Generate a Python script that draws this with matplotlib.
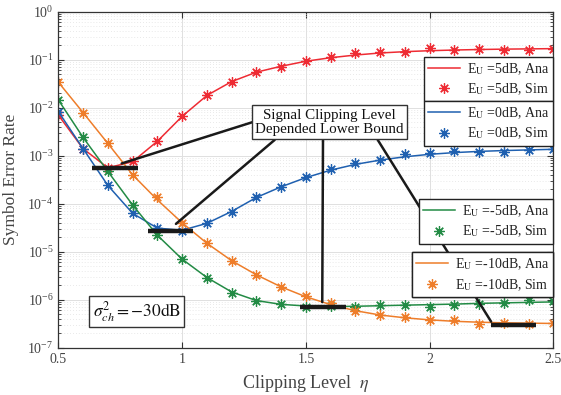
import numpy as np
import matplotlib
matplotlib.use("Agg")
import matplotlib.pyplot as plt
from matplotlib.ticker import LogLocator, LogFormatterMathtext, FixedLocator, NullFormatter

plt.rcParams['font.family'] = ['Liberation Serif', 'DejaVu Serif']
plt.rcParams['mathtext.fontset'] = 'stix'

eta = [0.5, 0.6, 0.7, 0.8, 0.9, 1.0, 1.1, 1.2, 1.3, 1.4, 1.5,
       1.6, 1.7, 1.8, 1.9, 2.0, 2.1, 2.2, 2.3, 2.4, 2.5]

ser_5dB_sim = [7.0e-3, 1.4e-3, 5.5e-4, 7.6e-4, 2.0e-3, 6.7e-3, 1.8e-2, 3.5e-2, 5.5e-2, 7.1e-2, 9.4e-2,
               0.112, 0.136, 0.147, 0.147, 0.178, 0.160, 0.170, 0.160, 0.160, 0.170]
ser_5dB_ana = [7.0e-3, 1.4e-3, 5.6e-4, 7.5e-4, 2.0e-3, 6.6e-3, 1.8e-2, 3.5e-2, 5.5e-2, 7.3e-2, 9.3e-2,
               0.110, 0.125, 0.138, 0.147, 0.154, 0.159, 0.163, 0.166, 0.168, 0.170]

ser_0dB_sim = [8.3e-3, 1.4e-3, 2.4e-4, 6.3e-5, 3.1e-5, 2.7e-5, 3.9e-5, 6.8e-5, 1.4e-4, 2.25e-4, 3.6e-4,
               5.2e-4, 6.9e-4, 8.3e-4, 1.07e-3, 1.12e-3, 1.26e-3, 1.18e-3, 1.2e-3, 1.3e-3, 1.38e-3]
ser_0dB_ana = [8.3e-3, 1.4e-3, 2.4e-4, 6.3e-5, 3.1e-5, 2.8e-5, 3.9e-5, 6.9e-5, 1.35e-4, 2.25e-4, 3.5e-4,
               5.0e-4, 6.6e-4, 8.1e-4, 9.5e-4, 1.07e-3, 1.16e-3, 1.23e-3, 1.28e-3, 1.32e-3, 1.36e-3]

ser_m5dB_sim = [1.45e-2, 2.4e-3, 4.7e-4, 9.4e-5, 2.2e-5, 6.9e-6, 2.9e-6, 1.4e-6, 9.5e-7, 8.1e-7, 6.9e-7,
                7.4e-7, 7.2e-7, 7.8e-7, 7.8e-7, 7.0e-7, 7.8e-7, 8.1e-7, 8.6e-7, 9.8e-7, 9.2e-7]
ser_m5dB_ana = [1.45e-2, 2.4e-3, 4.7e-4, 9.4e-5, 2.2e-5, 7.0e-6, 2.9e-6, 1.45e-6, 9.6e-7, 8.0e-7, 7.4e-7,
                7.2e-7, 7.3e-7, 7.5e-7, 7.7e-7, 7.9e-7, 8.1e-7, 8.4e-7, 8.6e-7, 8.8e-7, 9.0e-7]

ser_m10dB_sim = [3.4e-2, 7.9e-3, 1.8e-3, 4.0e-4, 1.4e-4, 3.9e-5, 1.5e-5, 6.4e-6, 3.3e-6, 1.8e-6, 1.2e-6,
                 8.7e-7, 5.8e-7, 4.8e-7, 4.3e-7, 3.8e-7, 3.7e-7, 3.1e-7, 3.2e-7, 3.1e-7, 3.2e-7]
ser_m10dB_ana = [3.4e-2, 7.9e-3, 1.8e-3, 4.0e-4, 1.2e-4, 4.0e-5, 1.5e-5, 6.5e-6, 3.3e-6, 1.85e-6, 1.15e-6,
                 7.9e-7, 5.9e-7, 4.8e-7, 4.2e-7, 3.8e-7, 3.55e-7, 3.4e-7, 3.3e-7, 3.25e-7, 3.2e-7]

labels = ['5dB', '0dB', '-5dB', '-10dB']
colors = ['#EE2B33', '#1F60B0', '#238B45', '#EE7D2A']

# lower bound segments: (eta_start, eta_end, level)
bound_x0 = [0.637, 0.863, 1.475, 2.247]
bound_x1 = [0.820, 1.044, 1.663, 2.430]
bound_y = [5.5e-4, 2.65e-5, 6.9e-7, 2.97e-7]

# annotation leader lines (start at box, end near bound)
lead_start = [(1.285, 10**-2.30), (1.374, 10**-2.67), (1.569, 10**-2.67), (1.790, 10**-2.67)]
lead_end = [(0.756, 6.9e-4), (0.975, 3.8e-5), (1.566, 8.9e-7), (2.248, 3.5e-7)]

fig = plt.figure(figsize=(5.61, 3.95), dpi=100)
ax = fig.add_axes([0.104, 0.1197, 0.8826, 0.8507])
ax.set_yscale('log')
ax.set_xlim(0.5, 2.5)
ax.set_ylim(1e-7, 1)

sims = [ser_5dB_sim, ser_0dB_sim, ser_m5dB_sim, ser_m10dB_sim]
anas = [ser_5dB_ana, ser_0dB_ana, ser_m5dB_ana, ser_m10dB_ana]
handles = []
for s, a, c in zip(sims, anas, colors):
    l1, = ax.plot(eta, a, '-', color=c, lw=1.1)
    l2, = ax.plot(eta, s, linestyle='none', marker=(8, 2, 0), markersize=7.5,
                  markeredgewidth=0.9, color=c)
    handles.append((l1, l2))

for x0, x1, yb in zip(bound_x0, bound_x1, bound_y):
    ax.plot([x0, x1], [yb, yb], color='#1a1a1a', lw=3.2, solid_capstyle='butt', zorder=5)

for st, en in zip(lead_start, lead_end):
    ax.annotate('', xy=en, xytext=st,
                arrowprops=dict(arrowstyle='-', color='#1a1a1a', lw=1.8, shrinkA=0, shrinkB=0),
                zorder=5)

ax.text(1.594, 5.0e-3, 'Signal Clipping Level\nDepended Lower Bound', ha='center', va='center',
        fontsize=10.8, color='#111111', linespacing=1.1, zorder=6,
        bbox=dict(boxstyle='square,pad=0.22', fc='white', ec='#333333', lw=1.0))

ax.text(0.069, 0.1065, r'$\sigma^2_{ch} = -30\mathrm{dB}$', transform=ax.transAxes,
        ha='left', va='center', fontsize=12.5, color='#111111',
        bbox=dict(boxstyle='square,pad=0.18', fc='white', ec='#333333', lw=1.0))

# grid
ax.grid(True, which='major', color='#e0e0e0', lw=0.7, linestyle='-')
ax.yaxis.set_minor_locator(LogLocator(base=10, subs=np.arange(2, 10), numticks=20))
ax.yaxis.set_minor_formatter(NullFormatter())
ax.grid(True, which='minor', axis='y', color='#e2e2e2', lw=0.6, linestyle=(0, (1, 2.5)))
ax.set_axisbelow(True)

ax.xaxis.set_major_locator(FixedLocator([0.5, 1, 1.5, 2, 2.5]))
ax.set_xticklabels(['0.5', '1', '1.5', '2', '2.5'])
ax.yaxis.set_major_locator(LogLocator(base=10, numticks=10))
ax.yaxis.set_major_formatter(LogFormatterMathtext())
ax.tick_params(which='both', direction='in', top=True, right=True, colors='#333333',
               labelcolor='#444444', labelsize=10)
ax.tick_params(which='major', length=4)
ax.tick_params(which='minor', length=2)
for sp in ax.spines.values():
    sp.set_color('#333333')
    sp.set_linewidth(0.9)

ax.set_xlabel(r'Clipping Level  $\eta$', fontsize=13, color='#444444', labelpad=5)
ax.set_ylabel('Symbol Error Rate', fontsize=12.5, color='#444444', labelpad=6)

legend_tops = [0.866, 0.734, 0.442, 0.284]
for (l1, l2), lab, top in zip(handles, labels, legend_tops):
    leg = ax.legend([l1, l2],
                    [r'E$_\mathrm{U}$ =' + lab + ', Ana', r'E$_\mathrm{U}$ =' + lab + ', Sim'],
                    loc='upper right', bbox_to_anchor=(1.0, top), borderaxespad=0,
                    fontsize=10, frameon=True, fancybox=False, edgecolor='#222222',
                    framealpha=1, handlelength=2.3, borderpad=0.3, labelspacing=0.35,
                    handletextpad=0.5)
    leg.get_frame().set_linewidth(1.0)
    for t in leg.get_texts():
        t.set_color('#222222')
    ax.add_artist(leg)

fig.savefig('out.png', dpi=100)
